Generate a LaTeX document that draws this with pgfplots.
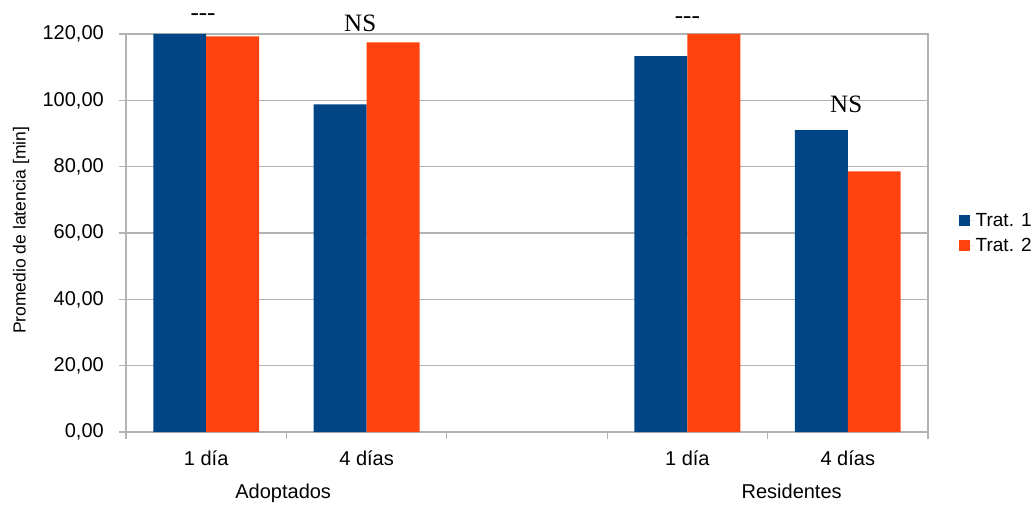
\documentclass[border=0pt]{standalone}
\usepackage{pgfplots}
\pgfplotsset{compat=1.18}
\usepackage{fontspec}
\setmainfont{Liberation Sans}
\newfontfamily\seriffont{Liberation Serif}
\definecolor{tblue}{HTML}{004586}
\definecolor{torange}{HTML}{FF420E}
\definecolor{gridgray}{HTML}{B3B3B3}
\begin{document}
\begin{tikzpicture}
\path[use as bounding box] (-126pt,-72pt) rectangle (908pt,432pt);
\begin{axis}[
  at={(0pt,0pt)}, anchor=south west,
  scale only axis, width=802pt, height=398pt,
  ybar=0pt, bar width=0.33,
  xmin=0.5, xmax=5.5, ymin=0, ymax=120,
  xtick={0.5,1.5,2.5,3.5,4.5,5.5}, xticklabels={},
  extra x ticks={1,2,4,5},
  extra x tick labels={1 día,4 días,1 día,4 días},
  extra x tick style={major tick length=0pt, xticklabel style={anchor=base, inner sep=0pt, yshift=-33pt}},
  ytick={0,20,...,120},
  scaled y ticks=false,
  yticklabel style={/pgf/number format/fixed, /pgf/number format/fixed zerofill,
    /pgf/number format/precision=2, /pgf/number format/use comma,
    /pgf/number format/1000 sep={}, /pgf/number format/assume math mode=true,
    anchor=east, inner sep=0pt, xshift=-15pt},
  tick label style={font=\fontsize{20}{24}\selectfont, text=black},
  ymajorgrids, grid style={gridgray, line width=1.3pt},
  axis line style={gridgray, line width=1.3pt},
  tick style={gridgray, line width=1.3pt},
  tick align=outside, major tick length=7pt, tick pos=left,
  ylabel={Promedio de latencia [min]},
  every axis y label/.style={at={(rel axis cs:0,0.507)}, xshift=-105pt, rotate=90, anchor=center, font=\fontsize{17.5}{21}\selectfont},
  legend style={at={(1.038,0.5)}, anchor=west, draw=none, fill=none,
    font=\fontsize{19}{22}\selectfont, row sep=6pt, inner sep=0pt},
  legend cell align=left,
  every axis plot post/.append style={legend image code/.code={\fill[##1] (0pt,-5.5pt) rectangle (11pt,5.5pt); \path (0pt,0pt) -- (15pt,0pt);}},
  clip=false,
]
\addplot[fill=tblue, draw=none] coordinates {(1,120) (2,98.8) (4,113.3) (5,91.0)};
\addplot[fill=torange, draw=none] coordinates {(1,119.3) (2,117.5) (4,120) (5,78.6)};
\legend{Trat. 1, Trat. 2}
\node[font=\seriffont\fontsize{25}{30}\selectfont, anchor=base] at (axis cs:0.98,124.1) {\mbox{-}\mbox{-}\mbox{-}};
\node[font=\seriffont\fontsize{25}{30}\selectfont, anchor=base] at (axis cs:1.96,120.9) {NS};
\node[font=\seriffont\fontsize{25}{30}\selectfont, anchor=base] at (axis cs:4.0,123.3) {\mbox{-}\mbox{-}\mbox{-}};
\node[font=\seriffont\fontsize{25}{30}\selectfont, anchor=base] at (axis cs:4.99,96.2) {NS};
\node[font=\fontsize{20}{24}\selectfont, anchor=base] at ([yshift=-66pt]axis cs:1.48,0) {Adoptados};
\node[font=\fontsize{20}{24}\selectfont, anchor=base] at ([yshift=-66pt]axis cs:4.65,0) {Residentes};
\end{axis}
\end{tikzpicture}
\end{document}
